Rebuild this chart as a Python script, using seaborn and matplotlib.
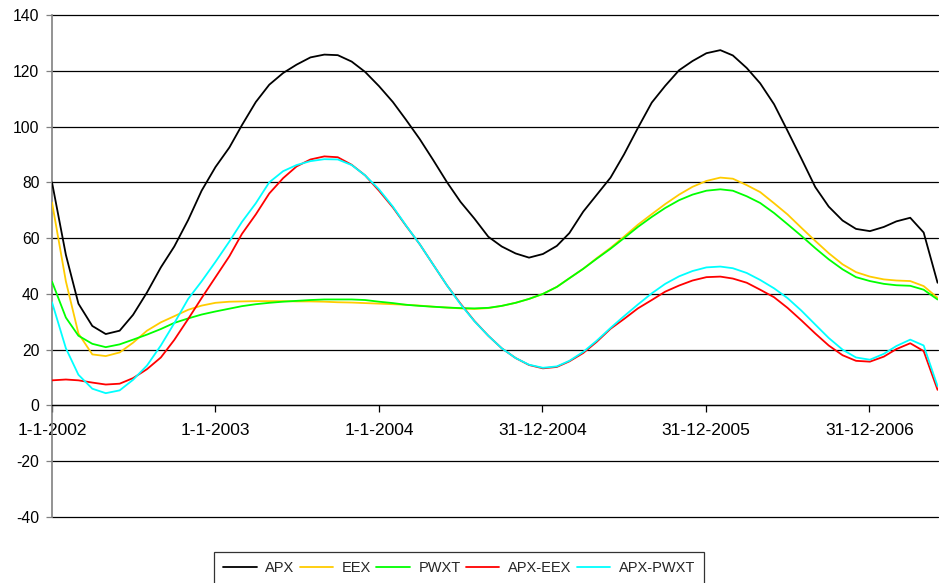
import numpy as np
import pandas as pd
import matplotlib
matplotlib.use("Agg")
import matplotlib.pyplot as plt
import seaborn as sns

# monthly dates 2002-01 .. 2007-06
dates = pd.date_range("2002-01-01", periods=66, freq="MS")

apx = [80, 54, 36.5, 28.5, 25.6, 26.8, 32.5, 40.5, 49.5, 57, 66.5, 77,
       85.5, 92.5, 100.5, 108.8, 115, 119.2, 122.2, 124.8, 125.8, 125.6, 123.3, 119.6,
       114.5, 108.8, 102.5, 95.5, 88, 80, 73, 67, 60.5, 57, 54.5, 53,
       54.3, 57.2, 61.8, 69.5, 75.5, 81.7, 90, 99.5, 108.6, 114.6, 120.2, 123.5,
       126.3, 127.4, 125.5, 121, 115.5, 108, 98.5, 88.5, 78.3, 71.3, 66.3, 63.3,
       62.5, 64, 66, 67.3, 62, 44]

eex = [72.8, 44.5, 25.8, 18.3, 17.7, 19, 22.5, 26.8, 29.8, 32, 34.3, 35.8,
       36.8, 37.2, 37.3, 37.4, 37.4, 37.4, 37.3, 37.3, 37.2, 37.0, 36.9, 36.7,
       36.5, 36.3, 36.1, 35.8, 35.4, 35.1, 34.8, 34.6, 34.9, 35.7, 36.8, 38.2,
       40, 42.5, 45.6, 49, 52.8, 56.5, 60.5, 64.8, 68.6, 72.2, 75.6, 78.4,
       80.5, 81.7, 81.3, 79, 76.5, 72.5, 68.5, 63.7, 59, 54.6, 50.6, 47.8,
       46.2, 45.2, 44.8, 44.6, 42.8, 38.6]

pwxt = [44.4, 31.5, 25, 22.1, 20.9, 21.9, 23.6, 25.4, 27.4, 29.6, 31.2, 32.6,
        33.7, 34.7, 35.6, 36.3, 36.8, 37.2, 37.5, 37.8, 38, 38, 38, 37.8,
        37.2, 36.7, 36.1, 35.7, 35.4, 35.1, 34.9, 34.8, 35.0, 35.7, 36.8, 38.2,
        40, 42.5, 45.6, 49, 52.6, 56.2, 60, 64, 67.6, 70.8, 73.6, 75.6,
        77, 77.5, 77, 75, 72.6, 69, 65, 60.8, 56.4, 52.4, 48.8, 46,
        44.6, 43.6, 43.1, 42.9, 41.5, 38]

apx_eex = [9, 9.3, 9, 8.2, 7.5, 7.8, 9.8, 13, 17.2, 23.5, 31, 38.5,
           46, 53.5, 61.5, 68.5, 76, 81.5, 85.7, 88.2, 89.3, 89, 86.3, 82.5,
           77, 71, 64.5, 57.8, 50.5, 43, 36.5, 30.3, 25, 20.5, 17, 14.5,
           13.3, 13.8, 15.8, 18.8, 22.8, 27.5, 31, 34.8, 37.8, 40.8, 43, 44.8,
           46, 46.2, 45.5, 44, 41.5, 38.8, 35, 30.5, 25.8, 21.5, 18, 16,
           15.7, 17.5, 20.2, 22.3, 19.5, 5.6]

apx_pwxt = [37, 20.5, 11, 6, 4.4, 5.4, 9.2, 14.3, 21.5, 29.5, 38.2, 44.5,
            51.5, 58.8, 65.8, 72.5, 80, 84, 86.2, 87.6, 88.3, 88.2, 86.2, 82.5,
            77.5, 71.3, 64.6, 57.8, 50.5, 43, 36.3, 30.2, 25, 20.5, 17, 14.6,
            13.5, 14, 16, 19.2, 23.2, 27.8, 32, 36.2, 40.2, 43.6, 46.3, 48.2,
            49.5, 49.8, 49.2, 47.5, 45, 42, 38.5, 34, 29, 24.2, 20, 17.2,
            16.4, 18.5, 21.3, 23.6, 21.5, 6.9]

series_names = ["APX", "EEX", "PWXT", "APX-EEX", "APX-PWXT"]
series_colors = ["#000000", "#FFCC00", "#00FF00", "#FF0000", "#00FFFF"]

tick_dates = pd.to_datetime(["2002-01-01", "2003-01-01", "2004-01-01",
                             "2004-12-31", "2005-12-31", "2006-12-31"])
tick_labels = ["1-1-2002", "1-1-2003", "1-1-2004", "31-12-2004", "31-12-2005", "31-12-2006"]
y_ticks = [-40, -20, 0, 20, 40, 60, 80, 100, 120, 140]

frames = []
for name, vals in zip(series_names, [apx, eex, pwxt, apx_eex, apx_pwxt]):
    frames.append(pd.DataFrame({"date": dates, "value": vals, "series": name}))
df = pd.concat(frames, ignore_index=True)

sns.set_style("white")
plt.rcParams["font.family"] = ["Liberation Sans", "DejaVu Sans"]
plt.rcParams["axes.unicode_minus"] = False

fig = plt.figure(figsize=(9.39, 5.83), dpi=100)
ax = fig.add_axes([52 / 939, 1 - 517 / 583, (938 - 52) / 939, (517 - 15) / 583])

sns.lineplot(data=df, x="date", y="value", hue="series", hue_order=series_names,
             palette=dict(zip(series_names, series_colors)), linewidth=1.3,
             ax=ax, legend=True, zorder=3)

ax.set_ylim(-40, 140)
ax.set_yticks(y_ticks)
ax.set_xlim(pd.Timestamp("2002-01-01"), pd.Timestamp("2007-06-02"))
ax.set_xticks(tick_dates)
ax.set_xticklabels(tick_labels)
ax.set_xlabel("")
ax.set_ylabel("")

ax.yaxis.grid(True, color="black", linewidth=0.9)
ax.xaxis.grid(False)
ax.set_axisbelow(True)
for gl in ax.get_ygridlines():
    gl.set_clip_on(False)

for s in ["top", "right"]:
    ax.spines[s].set_visible(False)
ax.spines["left"].set_color("#808080")
ax.spines["left"].set_linewidth(1.2)
ax.spines["bottom"].set_position(("data", 0))
ax.spines["bottom"].set_color("black")
ax.spines["bottom"].set_linewidth(0.9)

ax.tick_params(axis="y", which="major", direction="out", length=4, width=0.9,
               color="#808080", pad=5, labelsize=11.3, labelcolor="black", left=True)
ax.tick_params(axis="x", which="major", direction="out", length=5, width=0.9,
               color="black", pad=7.5, labelsize=12.5, labelcolor="black", bottom=True)

handles, labels = ax.get_legend_handles_labels()
leg = ax.legend(handles, labels, loc="upper center", bbox_to_anchor=(0.489, 1 - 552 / 583),
                bbox_transform=fig.transFigure, ncol=5, frameon=True, fancybox=False,
                edgecolor="black", fontsize=10.5, handlelength=2.3, handletextpad=0.6,
                columnspacing=0.35, borderpad=0.6, borderaxespad=0)
leg.get_frame().set_linewidth(0.9)
for h in leg.get_lines():
    h.set_linewidth(1.3)

fig.savefig("out.png", dpi=100)
